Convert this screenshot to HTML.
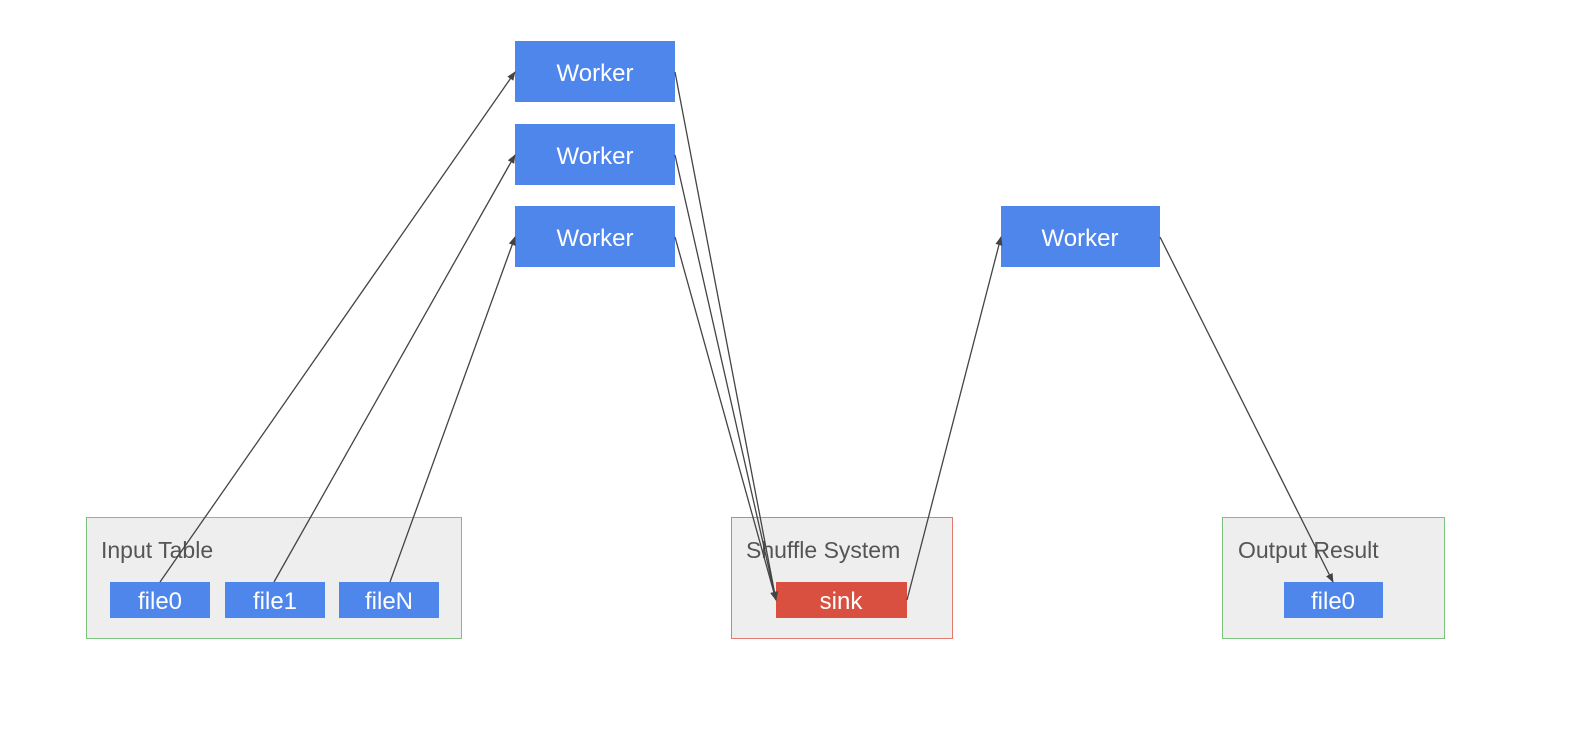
<!DOCTYPE html>
<html><head><style>
body{margin:0;background:#fff;width:1582px;height:740px;overflow:hidden;font-family:"Liberation Sans",sans-serif}
</style></head><body>
<svg width="1582" height="740" xmlns="http://www.w3.org/2000/svg" font-family="Liberation Sans, sans-serif">
<defs><marker id="a" viewBox="0 0 10 10" refX="9" refY="5" markerWidth="7" markerHeight="7" orient="auto"><path d="M0,1 L10,5 L0,9 z" fill="#444"/></marker></defs>
<rect x="86.5" y="517.5" width="375" height="121" fill="#eeeeee" stroke="#7cc17c"/>
<rect x="731.5" y="517.5" width="221" height="121" fill="#eeeeee" stroke="#e07a6e"/>
<rect x="1222.5" y="517.5" width="222" height="121" fill="#eeeeee" stroke="#7cc17c"/>
<g font-size="23" fill="#555">
<text x="101" y="558">Input Table</text>
<text x="746" y="558">Shuffle System</text>
<text x="1238" y="558">Output Result</text>
</g>
<g fill="#4f86ec">
<rect x="515" y="41" width="160" height="61"/>
<rect x="515" y="124" width="160" height="61"/>
<rect x="515" y="206" width="160" height="61"/>
<rect x="1001" y="206" width="159" height="61"/>
<rect x="110" y="582" width="100" height="36"/>
<rect x="225" y="582" width="100" height="36"/>
<rect x="339" y="582" width="100" height="36"/>
<rect x="1284" y="582" width="99" height="36"/>
</g>
<rect x="776" y="582" width="131" height="36" fill="#d95040"/>
<g font-size="24" fill="#fff" text-anchor="middle">
<text x="595" y="81">Worker</text>
<text x="595" y="164">Worker</text>
<text x="595" y="246">Worker</text>
<text x="1080" y="246">Worker</text>
<text x="160" y="609">file0</text>
<text x="275" y="609">file1</text>
<text x="389" y="609">fileN</text>
<text x="1333" y="609">file0</text>
<text x="841" y="609">sink</text>
</g>
<g stroke="#444" stroke-width="1.3" fill="none" marker-end="url(#a)">
<line x1="160" y1="582" x2="515" y2="72"/>
<line x1="274" y1="582" x2="515" y2="155"/>
<line x1="390" y1="582" x2="515" y2="237"/>
<line x1="675" y1="72" x2="776" y2="600"/>
<line x1="675" y1="155" x2="776" y2="600"/>
<line x1="675" y1="237" x2="776" y2="600"/>
<line x1="907" y1="600" x2="1001" y2="237"/>
<line x1="1160" y1="237" x2="1333" y2="582"/>
</g>
</svg>
</body></html>
